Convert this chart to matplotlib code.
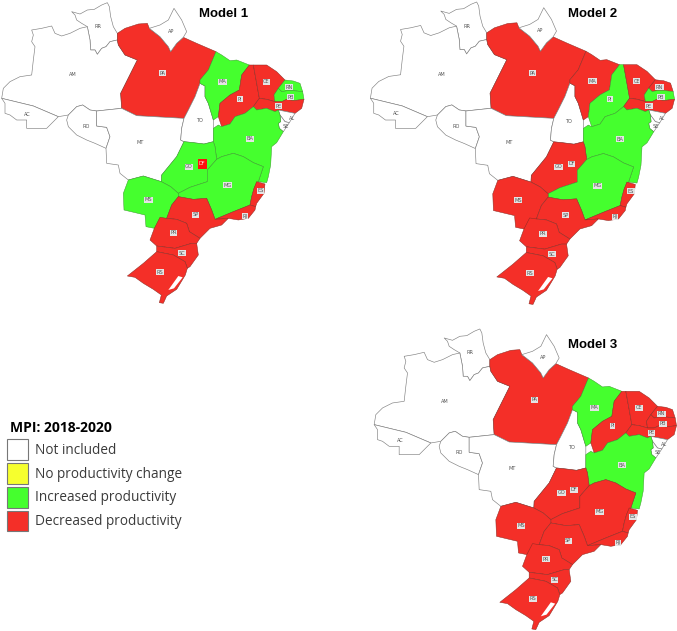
import matplotlib
matplotlib.use("Agg")
import matplotlib.pyplot as plt
from matplotlib.patches import Polygon, Patch

# state outlines (map units = 1/3 px)
RR = [(215,35),(240,42),(262,30),(283,28),(305,15),(322,8),(328,20),(332,50),(340,80),(352,100),(352,120),(330,125),(318,140),(305,145),(292,163),(285,150),(272,150),(270,120),(262,80),(245,70),(230,60),(225,45)]
AM = [(95,90),(125,85),(155,78),(165,100),(185,108),(210,100),(240,85),(262,80),(270,120),(272,150),(285,150),(292,163),(305,145),(318,140),(330,125),(352,120),(355,135),(375,165),(412,180),(362,280),(365,325),(290,333),(270,330),(248,315),(230,320),(205,345),(175,350),(100,318),(5,295),(10,265),(30,245),(60,230),(95,225),(100,180),(105,140),(95,125),(100,105)]
PA = [(352,120),(352,100),(375,85),(415,72),(442,70),(448,85),(480,110),(505,140),(512,155),(530,130),(550,112),(590,130),(648,155),(625,210),(600,240),(600,250),(585,290),(565,330),(552,355),(410,347),(365,325),(362,280),(412,180),(375,165),(355,135)]
AP = [(448,85),(480,75),(505,60),(522,25),(545,60),(560,95),(550,112),(530,130),(512,155),(505,140),(480,110)]
AC = [(5,295),(100,318),(175,350),(140,385),(80,385),(80,360),(50,360),(30,345),(15,340),(15,310)]
RO = [(205,345),(230,320),(248,315),(270,330),(290,333),(290,378),(320,382),(330,410),(318,445),(285,430),(260,420),(230,405),(205,380),(200,360)]
MT = [(290,333),(365,325),(410,347),(552,355),(545,385),(542,420),(552,425),(530,470),(485,525),(484,545),(430,528),(385,540),(360,520),(355,495),(320,490),(318,445),(330,410),(320,382),(290,378)]
TO = [(600,250),(615,258),(615,290),(625,310),(640,360),(640,385),(640,425),(612,432),(580,428),(552,425),(542,420),(545,385),(552,355),(565,330),(585,290)]
MA = [(648,155),(665,165),(690,182),(710,180),(748,195),(725,225),(718,270),(690,285),(660,310),(655,350),(640,360),(625,310),(615,290),(615,258),(600,250),(600,240),(625,210)]
PI = [(748,195),(760,195),(770,250),(778,295),(760,320),(735,340),(705,350),(690,372),(665,380),(655,350),(660,310),(690,285),(718,270),(725,225)]
CE = [(760,195),(800,195),(830,215),(855,240),(835,265),(822,285),(825,305),(800,298),(778,295),(770,250)]
RN = [(855,240),(880,243),(900,250),(908,275),(880,272),(862,272),(845,275),(835,265)]
PB = [(835,265),(845,275),(862,272),(880,272),(908,275),(912,298),(880,302),(860,298),(845,305),(825,305),(822,285)]
PE = [(778,295),(800,298),(825,305),(845,305),(860,298),(880,302),(912,298),(905,325),(885,340),(860,335),(835,330),(825,335),(800,325),(770,330),(760,320)]
AL = [(835,330),(860,335),(885,340),(868,368),(855,365),(840,345)]
SE = [(840,345),(855,365),(868,368),(850,395),(838,385),(835,370),(842,365)]
BA = [(640,385),(655,375),(665,380),(690,372),(705,350),(735,340),(760,320),(770,330),(800,325),(825,335),(835,330),(840,345),(842,365),(835,370),(838,385),(850,395),(830,428),(815,440),(812,495),(805,530),(800,548),(775,545),(790,500),(760,488),(730,470),(700,460),(665,470),(650,478),(645,440),(640,425)]
GO = [(552,425),(580,428),(612,432),(640,425),(645,440),(650,478),(622,510),(622,545),(570,562),(535,580),(512,560),(484,545),(485,525),(530,470)]
DF = [(595,478),(621,478),(621,507),(595,507)]
MG = [(650,478),(665,470),(700,460),(730,470),(760,488),(790,500),(775,545),(762,565),(755,590),(750,615),(700,635),(645,658),(635,630),(620,595),(580,598),(535,590),(535,580),(570,562),(622,545),(622,510)]
ES = [(770,545),(795,552),(792,580),(770,610),(767,620),(750,615),(755,590),(762,565)]
RJ = [(750,615),(767,620),(765,630),(745,655),(715,660),(685,655),(645,658),(700,635)]
MS = [(484,545),(512,560),(535,580),(535,590),(515,615),(500,655),(463,685),(438,680),(435,645),(372,630),(370,580),(385,540),(430,528)]
SP = [(535,590),(580,598),(620,595),(635,630),(645,658),(685,655),(665,675),(630,685),(600,715),(568,695),(560,670),(530,658),(500,655),(515,615)]
PR = [(500,655),(530,658),(560,670),(568,695),(600,715),(590,730),(575,730),(525,745),(470,738),(450,720),(463,685),(480,652)]
SC = [(470,738),(525,745),(575,730),(590,730),(595,765),(570,800),(562,805),(555,785),(520,765),(470,755)]
RS = [(470,755),(520,765),(555,785),(562,805),(556,825),(530,868),(500,888),(490,910),(478,908),(484,885),(460,868),(430,850),(405,832),(382,828),(430,790)]
lagoon = [(535,828),(548,832),(522,865),(505,870)]

states = ["RR","AM","PA","AP","AC","RO","MT","TO","MA","PI","CE","RN","PB","PE","AL","SE","BA","GO","MG","ES","RJ","MS","SP","PR","SC","RS"]
shapes = [RR,AM,PA,AP,AC,RO,MT,TO,MA,PI,CE,RN,PB,PE,AL,SE,BA,GO,MG,ES,RJ,MS,SP,PR,SC,RS]

label_names = ["AM","RR","AP","PA","AC","RO","MT","TO","MA","PI","CE","RN","PB","PE","AL","SE","BA","GO","DF","MG","ES","RJ","SP","MS","PR","SC","RS"]
label_x = [218,293,512,487,83,260,420,597,667,720,799,867,871,836,875,856,749,567,605,682,782,735,587,445,520,546,481]
label_y = [225,80,94,220,342,380,428,363,245,298,245,262,292,319,355,380,417,500,491,556,572,649,644,599,699,760,817]

not_included = ["RR","AM","AP","AC","RO","MT","TO","AL","SE"]
model1_red = ["PA","PI","CE","PE","ES","RJ","SP","PR","SC","RS"]
model2_red = ["PA","MA","CE","RN","PE","ES","RJ","SP","PR","SC","RS","MS","GO"]
model3_red = ["PA","PI","CE","RN","PB","PE","GO","MG","ES","RJ","SP","MS","PR","SC","RS"]

model_titles = ["Model 1","Model 2","Model 3"]
legend_title = "MPI: 2018-2020"
legend_labels = ["Not included","No productivity change","Increased productivity","Decreased productivity"]

WHITE = "#ffffff"
YELLOW = "#f6ff2e"
GREEN = "#45ff2e"
RED = "#f42f28"

W, H = 677, 631
fig = plt.figure(figsize=(W/100, H/100), dpi=100)


def draw_map(left, top, scale, title, title_x, title_y, red_states, df_square):
    size = 310*scale
    ax = fig.add_axes([left/W, 1-(top+size)/H, size/W, size/H])
    ax.set_xlim(0, 930)
    ax.set_ylim(930, 0)
    ax.axis("off")
    for name, shape in zip(states, shapes):
        if name in not_included:
            ax.add_patch(Polygon(shape, closed=True, fc=WHITE, ec="#808080", lw=0.45, joinstyle="round", clip_on=False))
        elif name in red_states:
            ax.add_patch(Polygon(shape, closed=True, fc=RED, ec="#8a2a22", lw=0.35, joinstyle="round", clip_on=False))
        else:
            ax.add_patch(Polygon(shape, closed=True, fc=GREEN, ec="#3a9a2c", lw=0.35, joinstyle="round", clip_on=False))
    ax.add_patch(Polygon(lagoon, closed=True, fc=WHITE, ec="none"))
    if df_square:
        ax.add_patch(Polygon(DF, closed=True, fc="#ff0d0d", ec="none"))
    for name, x, y in zip(label_names, label_x, label_y):
        if name == "DF" and df_square:
            ax.text(x, y, name, fontsize=3.6, color="#ffdddd", ha="center", va="center")
        elif name in not_included:
            ax.text(x, y, name, fontsize=3.6, color="#555555", ha="center", va="center")
        else:
            ax.text(x, y, name, fontsize=3.6, color="#555555", ha="center", va="center",
                    bbox=dict(boxstyle="square,pad=0.1", fc="#e4e4e4", ec="none"))
    fig.text(title_x/W, 1-title_y/H, title, fontsize=9.5, fontweight="bold", family="Liberation Sans", ha="center", va="center")


draw_map(0, 0, 1.0, model_titles[0], 224, 14, model1_red, True)
draw_map(368.7, -0.7, 1.006, model_titles[1], 593, 14, model2_red, False)
draw_map(372.5, 326.3, 1.0, model_titles[2], 593, 345, model3_red, False)

fig.text(10/W, 1-428/H, legend_title, fontsize=10, fontweight="bold", family="Open Sans", ha="left", va="center")
handles = [Patch(fc=c, ec="#777777", lw=0.8) for c in [WHITE, YELLOW, GREEN, RED]]
leg = fig.legend(handles, legend_labels, loc="upper left", bbox_to_anchor=(7/W, 1-439/H),
                 frameon=False, prop=dict(family="Open Sans", size=9.8), handlelength=1.53, handleheight=1.98,
                 handletextpad=0.5, labelspacing=0.22, borderpad=0, borderaxespad=0)
for t in leg.get_texts():
    t.set_color("#3a3a3a")

fig.savefig("out.png", dpi=100)
